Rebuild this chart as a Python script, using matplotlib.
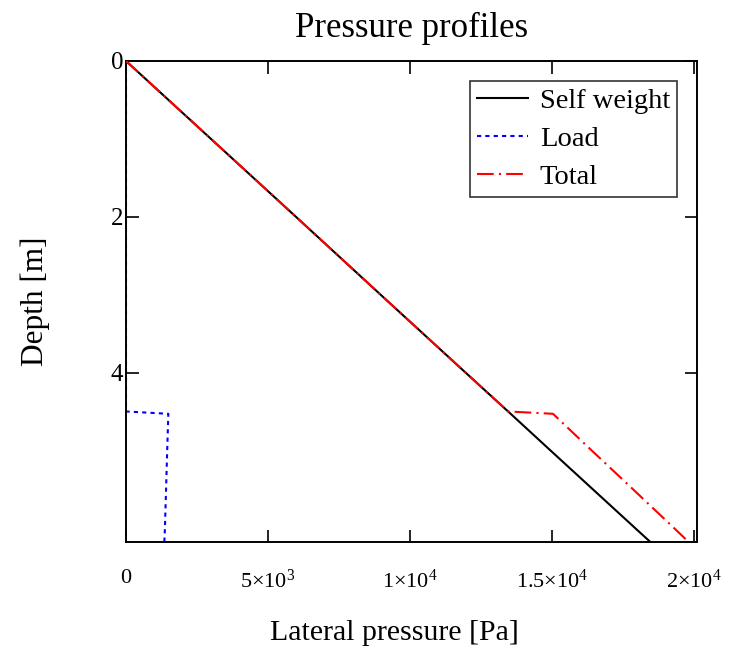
import numpy as np
import matplotlib
matplotlib.use("Agg")
import matplotlib.pyplot as plt

plt.rcParams['font.family'] = ['Liberation Serif', 'DejaVu Serif']
plt.rcParams['mathtext.fontset'] = 'custom'
plt.rcParams['mathtext.rm'] = 'Liberation Serif'
plt.rcParams['mathtext.it'] = 'Liberation Serif:italic'

# data
depth_self = [0.0, 1.0, 2.0, 3.0, 4.0, 4.53, 5.0, 6.0, 6.17]
p_self = [0, 2990, 5980, 8960, 11950, 13540, 14940, 17930, 18440]

depth_load = [0.0, 1.0, 2.0, 3.0, 4.0, 4.50, 4.53, 5.0, 5.5, 6.0, 6.17]
p_load = [0, 0, 0, 0, 0, 0, 1490, 1450, 1410, 1370, 1350]

depth_total = [0.0, 1.0, 2.0, 3.0, 4.0, 4.50, 4.53, 5.0, 5.5, 6.0, 6.17]
p_total = [0, 2990, 5980, 8960, 11950, 13450, 15030, 16390, 17850, 19300, 19790]

xticks = [0, 5000, 10000, 15000, 20000]
xticklabels = ['0', r'$5{\times}10^{3}$', r'$1{\times}10^{4}$',
               r'$1.5{\times}10^{4}$', r'$2{\times}10^{4}$']
yticks = [0, 2, 4]

fig = plt.figure(figsize=(7.33, 6.6), dpi=100)
ax = fig.add_axes([0.1719, 0.1795, 0.7790, 0.7281])

ax.plot(p_self, depth_self, color='black', lw=1.5, label='Self weight', zorder=3)
ax.plot(p_load, depth_load, color='blue', lw=1.5, ls=(0, (2, 2)), label='Load', zorder=2)
ax.plot(p_total, depth_total, color='red', lw=1.5, ls=(0, (8, 2.5, 1, 2.5)), label='Total', zorder=4)

ax.set_xlim(0, 20100)
ax.set_ylim(6.17, 0)
ax.set_xticks(xticks)
ax.set_xticklabels(xticklabels)
ax.set_yticks(yticks)
ax.tick_params(direction='in', length=9, width=1.2, top=True, right=True, labelsize=16)
ax.tick_params(axis='x', pad=20)
ax.tick_params(axis='y', pad=2, labelsize=18)
for s in ax.spines.values():
    s.set_linewidth(1.4)

ax.set_title('Pressure profiles', fontsize=25, pad=17)
ax.set_xlabel('Lateral pressure [Pa]', fontsize=21.5, labelpad=20)
ax.xaxis.label.set_x(0.47)
ax.set_ylabel('Depth [m]', fontsize=22.5, labelpad=44)

leg = ax.legend(loc='upper right', fontsize=20.5, frameon=True, fancybox=False,
                edgecolor='black', handlelength=1.8, borderpad=0.25,
                labelspacing=0.42, handletextpad=0.4, borderaxespad=0.7)
leg.get_frame().set_linewidth(1.2)

fig.savefig('out.png', dpi=100)
